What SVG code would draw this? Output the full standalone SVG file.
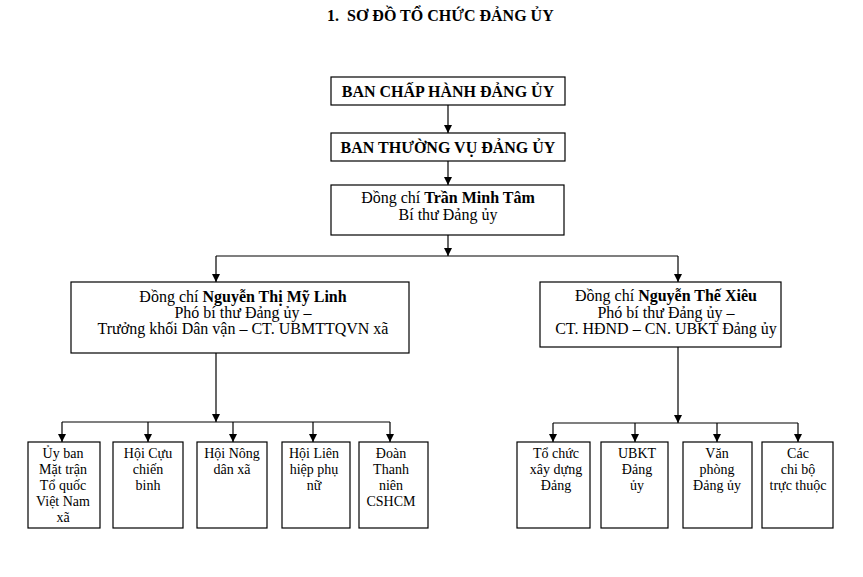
<svg xmlns="http://www.w3.org/2000/svg" width="863" height="577" viewBox="0 0 863 577">
<defs>
<marker id="arr" markerUnits="userSpaceOnUse" markerWidth="8" markerHeight="8" refX="8" refY="4" orient="auto">
<path d="M0,0 L8,4 L0,8 z" fill="#000"/>
</marker>
<style>
text{font-family:"Liberation Serif","Times New Roman",serif;fill:#000;text-anchor:middle}
.t{font-size:16px}
.s{font-size:14px}
.b{font-weight:bold}
rect{fill:#fff;stroke:#000;stroke-width:1.2}
.c path{fill:none;stroke:#000;stroke-width:1.2}
</style>
</defs>
<rect x="0" y="0" width="863" height="577" style="stroke:none"/>
<text class="t b" x="327" y="21" style="text-anchor:start" xml:space="preserve">1.  SƠ ĐỒ TỔ CHỨC ĐẢNG ỦY</text>

<g class="c" id="connectors">
<path d="M448,105 V133" marker-end="url(#arr)"/>
<path d="M448,161 V185" marker-end="url(#arr)"/>
<path d="M448,235 V256" marker-end="url(#arr)"/>
<path d="M216,256 H678"/>
<path d="M216,256 V282" marker-end="url(#arr)"/>
<path d="M678,256 V282" marker-end="url(#arr)"/>
<path d="M216,353 V422" marker-end="url(#arr)"/>
<path d="M62,422 H390"/>
<path d="M62,422 V442" marker-end="url(#arr)"/>
<path d="M148,422 V442" marker-end="url(#arr)"/>
<path d="M233,422 V442" marker-end="url(#arr)"/>
<path d="M313,422 V442" marker-end="url(#arr)"/>
<path d="M390,422 V442" marker-end="url(#arr)"/>
<path d="M678,347 V423" marker-end="url(#arr)"/>
<path d="M553,423 H798"/>
<path d="M553,423 V442" marker-end="url(#arr)"/>
<path d="M635,423 V442" marker-end="url(#arr)"/>
<path d="M717,423 V442" marker-end="url(#arr)"/>
<path d="M798,423 V442" marker-end="url(#arr)"/>
</g>

<g id="bch">
<rect x="331" y="77" width="234" height="28"/>
<text class="t b" x="448" y="97">BAN CHẤP HÀNH ĐẢNG ỦY</text>
</g>
<g id="btv">
<rect x="331" y="133" width="234" height="28"/>
<text class="t b" x="448" y="153">BAN THƯỜNG VỤ ĐẢNG ỦY</text>
</g>
<g id="bithu">
<rect x="331" y="185" width="233" height="50"/>
<text class="t" x="448" y="203">Đồng chí <tspan class="b">Trần Minh Tâm</tspan></text>
<text class="t" x="448" y="220">Bí thư Đảng ủy</text>
</g>
<g id="pbt1">
<rect x="71" y="282" width="338" height="71"/>
<text class="t" x="243" y="302">Đồng chí <tspan class="b">Nguyễn Thị Mỹ Linh</tspan></text>
<text class="t" x="243" y="318">Phó bí thư Đảng ủy –</text>
<text class="t" x="243" y="334">Trưởng khối Dân vận – CT. UBMTTQVN xã</text>
</g>
<g id="pbt2">
<rect x="540" y="282" width="241" height="65"/>
<text class="t" x="666" y="301">Đồng chí <tspan class="b">Nguyễn Thế Xiêu</tspan></text>
<text class="t" x="666" y="318">Phó bí thư Đảng ủy –</text>
<text class="t" x="666" y="334">CT. HĐND – CN. UBKT Đảng ủy</text>
</g>

<g id="mttq">
<rect x="28" y="442" width="72" height="86"/>
<text class="s" x="63" y="458">Ủy ban</text>
<text class="s" x="63" y="474">Mặt trận</text>
<text class="s" x="63" y="490">Tổ quốc</text>
<text class="s" x="63" y="506">Việt Nam</text>
<text class="s" x="63" y="522">xã</text>
</g>
<g id="ccb">
<rect x="113" y="442" width="70" height="86"/>
<text class="s" x="148" y="458">Hội Cựu</text>
<text class="s" x="148" y="474">chiến</text>
<text class="s" x="148" y="490">binh</text>
</g>
<g id="nd">
<rect x="197" y="442" width="70" height="86"/>
<text class="s" x="232" y="458">Hội Nông</text>
<text class="s" x="232" y="474">dân xã</text>
</g>
<g id="pn">
<rect x="282" y="442" width="68" height="86"/>
<text class="s" x="314" y="458">Hội Liên</text>
<text class="s" x="314" y="474">hiệp phụ</text>
<text class="s" x="314" y="490">nữ</text>
</g>
<g id="dtn">
<rect x="359" y="442" width="69" height="86"/>
<text class="s" x="391" y="458">Đoàn</text>
<text class="s" x="391" y="474">Thanh</text>
<text class="s" x="391" y="490">niên</text>
<text class="s" x="391" y="506">CSHCM</text>
</g>

<g id="tcxd">
<rect x="517" y="442" width="73" height="86"/>
<text class="s" x="556" y="458">Tổ chức</text>
<text class="s" x="556" y="474">xây dựng</text>
<text class="s" x="556" y="490">Đảng</text>
</g>
<g id="ubkt">
<rect x="601" y="442" width="67" height="86"/>
<text class="s" x="637" y="458">UBKT</text>
<text class="s" x="637" y="474">Đảng</text>
<text class="s" x="637" y="490">ủy</text>
</g>
<g id="vp">
<rect x="683" y="442" width="69" height="86"/>
<text class="s" x="717" y="458">Văn</text>
<text class="s" x="717" y="474">phòng</text>
<text class="s" x="717" y="490">Đảng ủy</text>
</g>
<g id="cb">
<rect x="762" y="442" width="71" height="86"/>
<text class="s" x="798" y="458">Các</text>
<text class="s" x="798" y="474">chi bộ</text>
<text class="s" x="798" y="490">trực thuộc</text>
</g>
</svg>
